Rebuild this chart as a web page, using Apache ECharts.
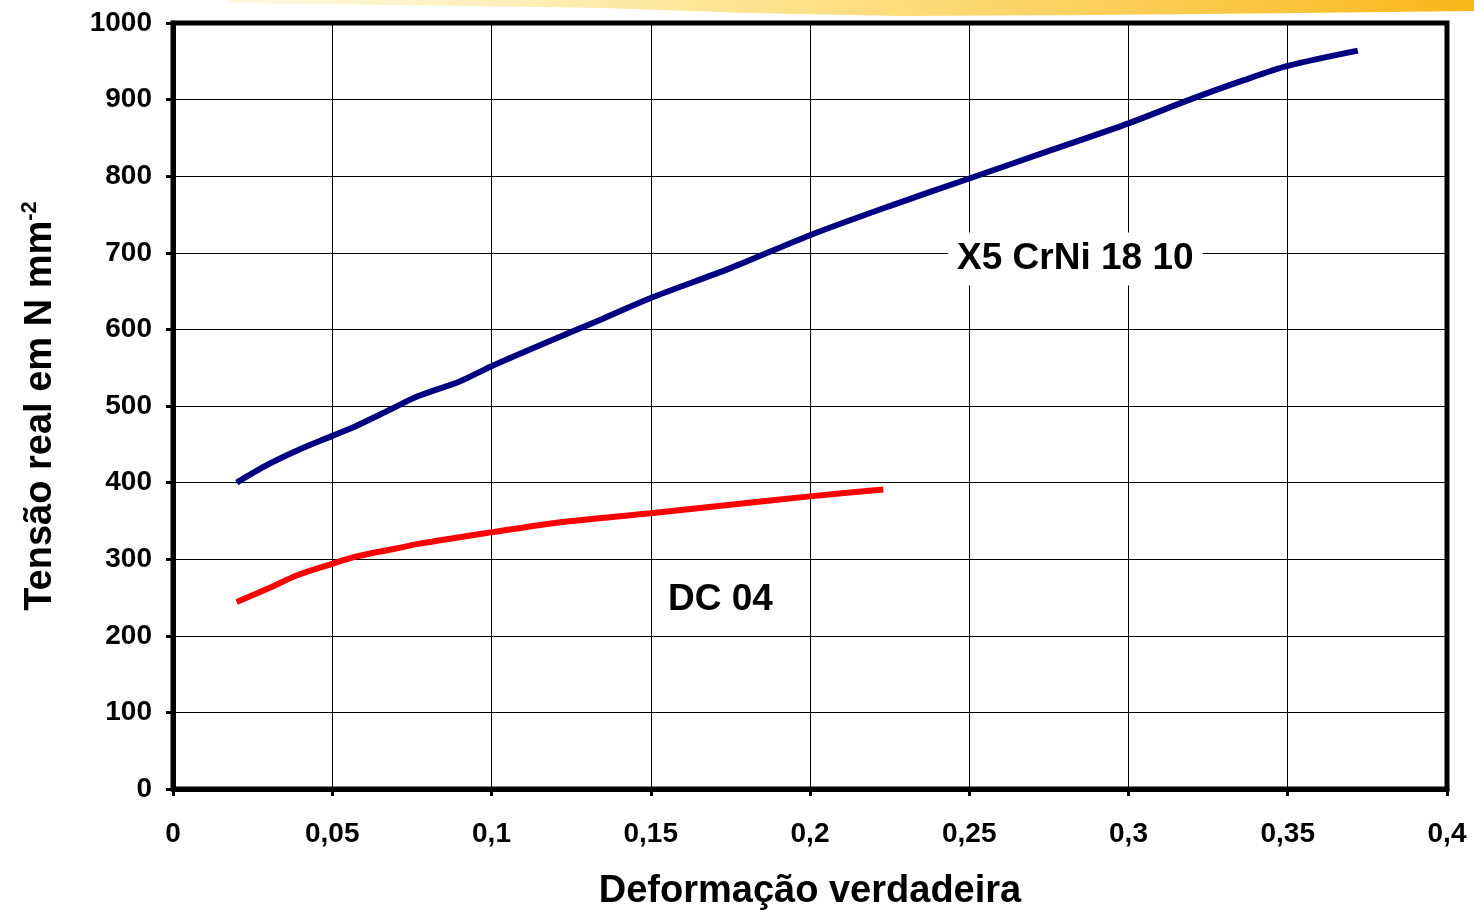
<!DOCTYPE html>
<html>
<head>
<meta charset="utf-8">
<script src="https://cdn.jsdelivr.net/npm/echarts@6/dist/echarts.min.js"></script>
<style>
html,body{margin:0;padding:0;background:#fff;}
#chart{width:1474px;height:913px;}
</style>
</head>
<body>
<div id="chart"></div>
<script>
// X5 CrNi 18 10 (true strain, true stress N/mm^2)
const blueX = [0.02, 0.03, 0.039, 0.05, 0.058, 0.068, 0.077, 0.09, 0.1, 0.115, 0.135, 0.15, 0.175, 0.2, 0.225, 0.25, 0.275, 0.3, 0.318, 0.336, 0.35, 0.372];
const blueY = [400, 424, 442, 461, 475, 495, 513, 532, 552, 579, 614, 641, 680, 723, 761, 797, 833, 869, 898, 925, 944, 964];
// DC 04
const redX = [0.02, 0.03, 0.039, 0.05, 0.058, 0.07, 0.077, 0.095, 0.1, 0.121, 0.15, 0.175, 0.2, 0.223];
const redY = [244, 262, 279, 294, 304, 314, 320, 332, 335, 348, 360, 371, 382, 391];
const seriesNames = ['X5 CrNi 18 10', 'DC 04'];
const labelPos = [[0.2833, 692], [0.1719, 247]];
const xTitle = 'Deformação verdadeira';
const yTitle = 'Tensão real em N mm';

const chart = echarts.init(document.getElementById('chart'));
const font = 'Liberation Sans, Arial, sans-serif';
const zip = (xs, ys) => xs.map((x, i) => [x, ys[i]]);

chart.setOption({
  backgroundColor: '#fff',
  animation: false,
  graphic: [{
    type: 'polygon',
    silent: true,
    shape: { points: [[230,0],[1474,0],[1474,11],[1300,13],[1100,15],[900,16],[750,13],[600,8],[400,5],[230,3]] },
    style: {
      fill: new echarts.graphic.LinearGradient(0, 0, 1, 0, [
        { offset: 0, color: 'rgba(255,236,160,0.35)' },
        { offset: 0.4, color: 'rgba(253,220,110,0.75)' },
        { offset: 1, color: '#f9b619' }
      ])
    },
    z: -1
  }],
  grid: { left: 173, right: 27, top: 23, bottom: 124, outerBoundsMode: 'none', containLabel: false,
    show: true, borderColor: '#000', borderWidth: 5, backgroundColor: 'transparent' },
  xAxis: {
    type: 'value', min: 0, max: 0.4, interval: 0.05,
    name: xTitle, nameLocation: 'middle', nameGap: 84,
    nameTextStyle: { fontFamily: font, fontWeight: 'bold', fontSize: 38, color: '#000' },
    axisLine: { show: true, lineStyle: { color: '#000', width: 5 } },
    axisTick: { show: true, length: 7, lineStyle: { color: '#000', width: 3 } },
    axisLabel: { margin: 31, fontFamily: font, fontWeight: 'bold', fontSize: 28, color: '#000',
      formatter: v => String(+v.toFixed(2)).replace('.', ',') },
    splitLine: { show: true, lineStyle: { color: '#000', width: 1 } }
  },
  yAxis: {
    type: 'value', min: 0, max: 1000, interval: 100,
    name: yTitle + '{sup|-2}', nameLocation: 'middle', nameGap: 110, nameRotate: 90,
    nameTextStyle: { fontFamily: font, fontWeight: 'bold', fontSize: 38, color: '#000', lineHeight: 44,
      rich: { sup: { fontFamily: font, fontWeight: 'bold', fontSize: 22, color: '#000', verticalAlign: 'top', lineHeight: 44 } } },
    axisLine: { show: true, lineStyle: { color: '#000', width: 5 } },
    axisTick: { show: true, length: 7, lineStyle: { color: '#000', width: 3 } },
    axisLabel: { margin: 21, fontFamily: font, fontWeight: 'bold', fontSize: 28, color: '#000',
      formatter: v => String(v) },
    splitLine: { show: true, lineStyle: { color: '#000', width: 1 } }
  },
  series: [
    {
      name: seriesNames[0], type: 'line', data: zip(blueX, blueY), smooth: 0.3,
      showSymbol: false, lineStyle: { color: '#000080', width: 6, cap: 'butt' },
      markPoint: {
        symbolSize: 0,
        data: [{ coord: labelPos[0], value: seriesNames[0] }],
        label: { show: true, position: 'inside', formatter: seriesNames[0], fontFamily: font, fontWeight: 'bold', fontSize: 37,
          color: '#000', backgroundColor: '#fff', padding: [7, 9, 6, 9], lineHeight: 40 }
      }
    },
    {
      name: seriesNames[1], type: 'line', data: zip(redX, redY), smooth: 0.3,
      showSymbol: false, lineStyle: { color: '#ff0000', width: 6, cap: 'butt' },
      markPoint: {
        symbolSize: 0,
        data: [{ coord: labelPos[1], value: seriesNames[1] }],
        label: { show: true, position: 'inside', formatter: seriesNames[1], fontFamily: font, fontWeight: 'bold', fontSize: 37, color: '#000' }
      }
    }
  ]
});
</script>
</body>
</html>
